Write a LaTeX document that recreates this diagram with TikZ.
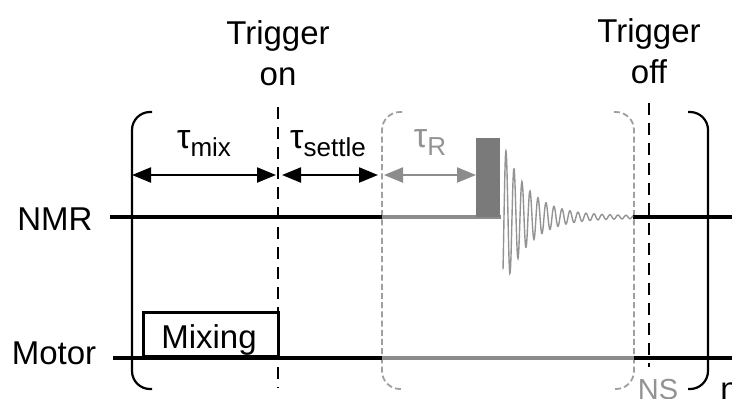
\documentclass[tikz,border=0pt]{standalone}
\usepackage{fontspec}
\setmainfont{Liberation Sans}
\usetikzlibrary{arrows.meta}
\newlength{\du}
\setlength{\du}{0.5pt}
\newcommand{\tausub}[1]{\fontsize{17}{20}\selectfont τ\raisebox{-4pt}{\fontsize{13}{14}\selectfont #1}}
\tikzset{
  lbl/.style={font=\fontsize{16.5}{20}\selectfont,inner sep=0pt,anchor=base},
  seqline/.style={line width=1.7pt,black},
  seqgray/.style={line width=1.6pt,gray!90},
  bracket/.style={line width=1.1pt,black,rounded corners=9pt},
  graybracket/.style={line width=0.9pt,gray!75,dash pattern=on 3pt off 1.6pt,rounded corners=9pt},
  trigger/.style={line width=1.2pt,black,dash pattern=on 6pt off 4pt},
  span/.style={line width=1.1pt,{Triangle[length=9.5pt,width=7.5pt]}-{Triangle[length=9.5pt,width=7.5pt]}},
}
\begin{document}
\begin{tikzpicture}[x=\du,y=-\du]
\useasboundingbox (0,0) rectangle (732,398);
\clip (0,0) rectangle (732,398);
% points on the time axis
\coordinate (nmrstart) at (110,217);
\coordinate (nmrgray) at (382,217);
\coordinate (nmrpulse) at (501,217);
\coordinate (nmrfid) at (633,217);
\coordinate (nmrend) at (732,217);
\coordinate (motorstart) at (113,358);
\coordinate (motorgray) at (382,358);
\coordinate (motorblack) at (634,358);
\coordinate (motorend) at (732,358);
\coordinate (onTop) at (278,107);
\coordinate (onBot) at (278,388);
\coordinate (offTop) at (649,103);
\coordinate (offBot) at (649,367);
\coordinate (mixA) at (132,175);
\coordinate (mixB) at (276,175);
\coordinate (settleA) at (282,175);
\coordinate (settleB) at (378,175);
\coordinate (relaxA) at (384,175);
\coordinate (relaxB) at (476,175);
% brackets
\draw[bracket] (152,112) -- (132,112) -- (132,389) -- (152,389);
\draw[bracket] (688,112) -- (708,112) -- (708,389) -- (688,389);
\draw[graybracket] (402,112) -- (382,112) -- (382,389) -- (402,389);
\draw[graybracket] (614,112) -- (634,112) -- (634,389) -- (614,389);
% trigger lines
\draw[trigger] (onTop)--(onBot);
\draw[trigger] (offTop)--(offBot);
% NMR channel
\draw[seqline] (nmrstart)--(nmrgray);
\draw[seqgray] (nmrgray)--(nmrpulse);
\draw[seqline] (nmrfid)--(nmrend);
\node[fill=black!52,draw=none,inner sep=0pt,minimum width=12pt,minimum height=39.5pt,anchor=south west] (pulse) at (476,217.5) {};
\draw[line width=0.7pt,gray!85] plot[domain=503:633,samples=400,smooth] (\x,{217-(1.2+73*exp(-(\x-503)/25))*sin(45*(\x-504))});
% motor channel
\draw[seqline] (motorstart)--(motorgray);
\draw[seqgray] (motorgray)--(motorblack);
\draw[seqline] (motorblack)--(motorend);
\node[draw,line width=1.6pt,inner sep=0pt,minimum width=67.5pt,minimum height=22pt,anchor=south west] (mixing) at (142,358) {};
\node[lbl] (mixinglabel) at (209,348) {Mixing};
% delays
\draw[span] (mixA)--(mixB);
\draw[span] (settleA)--(settleB);
\draw[span,gray!90] (relaxA)--(relaxB);
\node[inner sep=0pt,anchor=base] (taumix) at (204,148) {\tausub{mix}};
\node[inner sep=0pt,anchor=base] (tausettle) at (328,148) {\tausub{settle}};
\node[inner sep=0pt,text=gray!85,anchor=base] (taur) at (430,147) {\tausub{R}};
% labels
\node[lbl] (triggeron) at (278,44) {Trigger};
\node[lbl] (on) at (278,85) {on};
\node[lbl] (triggeroff) at (649,42) {Trigger};
\node[lbl] (off) at (649,83) {off};
\node[lbl] (nmr) at (55,230) {NMR};
\node[lbl] (motor) at (54,364) {Motor};
\node[lbl,font=\fontsize{14.5}{18}\selectfont,text=gray!85] (ns) at (658,399) {NS};
\node[lbl,anchor=base west] (n) at (720,400) {n};
\end{tikzpicture}
\end{document}
